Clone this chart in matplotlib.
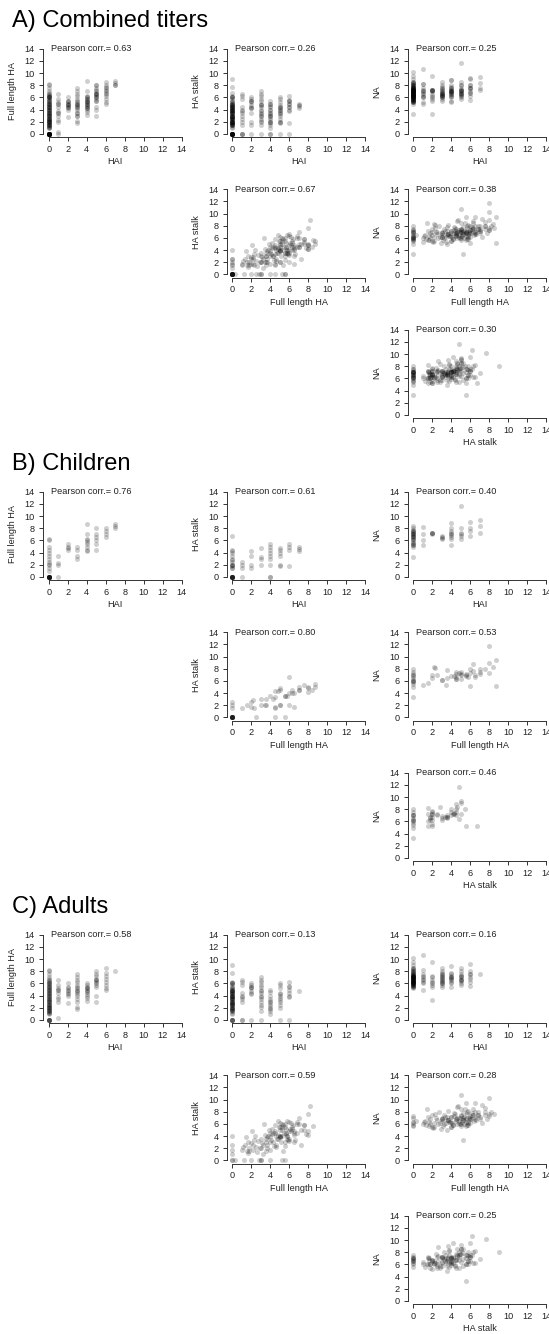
import numpy as np
import matplotlib.pyplot as plt

plt.rcParams['font.family'] = ['Liberation Sans', 'DejaVu Sans']

# children, one entry per subject (log2 titers)
child_hai = [0, 0, 0, 0, 0, 0, 0, 0, 0, 0, 0, 0, 0, 0, 0, 0, 0, 0, 0, 0, 0, 0, 0, 0,
             1, 1, 1, 1,
             2, 2, 2, 2,
             3, 3, 3, 3,
             4, 4, 4, 4, 4, 4, 4, 4, 4,
             5, 5, 5, 5, 5, 5,
             6, 6, 6, 6,
             7, 7, 7]
child_fl = [0, 0, 0, 0, 0, 0, 0, 0, 0, 0, 0, 0, 1.0, 1.5, 2.0, 2.5, 3.0, 3.5, 4.0, 4.5, 5.0, 6.0, 6.3, 2.2,
            0, 2.0, 2.3, 3.4,
            4.5, 5.0, 5.5, 4.8,
            3.0, 3.5, 4.5, 5.0,
            4.5, 5.5, 5.0, 5.8, 6.0, 6.3, 7.0, 8.7, 4.3,
            4.5, 5.5, 6.5, 7.0, 8.0, 6.0,
            6.5, 7.0, 7.5, 8.0,
            8.0, 8.4, 8.7]
child_stalk = [0, 0, 0, 0, 0, 0, 0, 0, 0, 1.5, 2.0, 2.5, 1.5, 2.0, 1.8, 0, 3.0, 2.0, 3.5, 4.3, 4.5, 6.7, 4.0, 2.8,
               0, 2.5, 1.5, 2.0,
               1.5, 2.0, 3.5, 4.3,
               2.0, 3.0, 3.3, 4.8,
               0, 0, 2.0, 3.5, 4.0, 4.5, 5.0, 5.5, 3.0,
               1.8, 3.5, 4.0, 4.5, 4.8, 2.0,
               1.8, 4.5, 5.4, 5.0,
               4.2, 4.6, 5.0]
child_na = [3.3, 5.0, 5.5, 5.8, 6.2, 6.5, 7.0, 7.5, 8.0, 6.0, 6.8, 7.2, 5.3, 5.6, 6.5, 7.0, 6.2, 7.8, 6.8, 7.4, 7.0, 5.2, 7.6, 8.3,
            6.0, 7.0, 8.2, 5.3,
            7.2, 7.2, 7.1, 7.3,
            6.2, 6.5, 6.7, 6.4,
            6.3, 7.0, 7.5, 6.6, 8.0, 8.8, 7.2, 5.2, 6.9,
            6.3, 6.8, 7.0, 8.0, 11.7, 7.3,
            6.7, 7.5, 8.0, 9.0,
            7.3, 8.3, 9.4]

# adults
adult_hai = [0, 0, 0, 0, 0, 0, 0, 0, 0, 0, 0, 0, 0, 0, 0, 0, 0, 0, 0, 0,
             0, 0, 0, 0, 0, 0, 0, 0, 0, 0, 0, 0, 0, 0, 0, 0, 0, 0, 0, 0,
             0, 0, 0, 0, 0, 0, 0, 0, 0, 0, 0, 0, 0, 0, 0, 0, 0, 0, 0, 0,
             1, 1, 1, 1, 1, 1, 1, 1, 1, 1,
             2, 2, 2, 2, 2, 2, 2, 2, 2,
             3, 3, 3, 3, 3, 3, 3, 3, 3, 3, 3, 3, 3, 3, 3, 3,
             4, 4, 4, 4, 4, 4, 4, 4, 4, 4, 4, 4,
             5, 5, 5, 5, 5, 5, 5, 5, 5, 5, 5, 5,
             6, 6, 6, 6, 6, 6, 6, 6,
             7]
adult_fl = [0, 0, 0, 0, 0, 0, 1.0, 1.1, 1.2, 1.3, 1.4, 1.5, 1.6, 1.7, 1.8, 2.0, 2.0, 2.1, 2.2, 2.3,
            2.4, 2.5, 2.6, 2.7, 2.9, 3.0, 3.1, 3.2, 3.3, 3.4, 3.5, 3.6, 3.7, 3.9, 4.0, 4.1, 4.2, 4.4, 4.5, 4.6,
            4.7, 4.9, 5.0, 5.1, 5.2, 5.4, 5.5, 5.6, 5.7, 5.9, 6.0, 6.1, 6.2, 6.4, 6.5, 6.8, 7.0, 7.6, 8.0, 8.2,
            0.3, 3.0, 3.5, 3.8, 5.0, 4.5, 5.0, 5.3, 5.8, 6.5,
            2.8, 5.2, 4.0, 4.5, 4.8, 5.0, 5.5, 6.0, 4.2,
            1.8, 2.2, 3.0, 3.5, 4.0, 4.3, 4.6, 5.0, 5.2, 5.5, 5.8, 6.2, 6.5, 7.0, 7.5, 4.8,
            3.2, 3.6, 4.0, 4.3, 4.6, 4.8, 5.0, 5.2, 5.5, 5.7, 6.0, 5.3,
            3.0, 4.0, 5.5, 5.8, 6.0, 6.3, 6.5, 6.8, 7.2, 7.5, 8.0, 6.6,
            5.0, 5.2, 5.8, 6.3, 6.8, 7.2, 7.8, 8.5,
            8.0]
adult_stalk = [0, 0, 1.0, 1.7, 2.5, 4.0, 1.8, 2.2, 0, 2.5, 3.8, 1.5, 3.0, 1.2, 2.0, 0, 2.8, 4.8, 1.8, 3.4,
               4.0, 2.2, 1.4, 3.2, 2.0, 3.5, 2.8, 2.6, 6.0, 4.2, 1.6, 2.6, 3.8, 5.0, 3.0, 3.4, 4.4, 2.4, 4.8, 4.0,
               3.6, 5.5, 4.0, 3.0, 6.0, 4.6, 0, 4.4, 5.2, 3.4, 6.3, 5.2, 4.9, 5.8, 4.2, 4.6, 6.0, 5.0, 7.7, 9.0,
               0, 0, 3.5, 4.0, 6.2, 4.5, 3.8, 5.8, 6.5, 3.0,
               0, 5.5, 4.5, 5.8, 4.2, 5.5, 6.0, 4.8, 5.2,
               1.5, 2.5, 0, 3.0, 3.8, 4.5, 2.2, 5.0, 4.0, 5.5, 3.5, 6.2, 4.8, 7.0, 5.8, 6.5,
               1.0, 2.0, 1.8, 3.0, 2.6, 3.5, 4.0, 5.0, 2.3, 4.6, 3.2, 1.5,
               2.0, 0, 3.0, 4.0, 3.6, 5.2, 4.5, 6.0, 2.5, 5.8, 4.2, 3.3,
               3.8, 0, 4.0, 5.5, 6.3, 5.0, 4.4, 5.6,
               4.8]
adult_na = [5.6, 6.1, 6.4, 7.0, 7.3, 5.9, 6.0, 6.3, 6.5, 5.8, 8.4, 7.2, 6.3, 5.6, 6.8, 7.5, 5.5, 5.4, 6.1, 7.6,
            7.0, 6.6, 6.0, 8.0, 5.2, 6.9, 5.7, 7.4, 7.2, 6.2, 6.7, 6.6, 8.2, 6.4, 7.1, 6.2, 5.9, 7.7, 6.8, 7.0,
            9.0, 6.0, 7.3, 6.4, 6.6, 8.5, 6.9, 5.8, 7.9, 7.0, 6.2, 6.9, 7.8, 6.5, 9.5, 7.4, 7.2, 8.6, 10.2, 8.0,
            6.5, 7.0, 5.0, 6.3, 10.7, 6.8, 7.5, 6.0, 8.2, 7.2,
            6.2, 3.3, 5.5, 6.5, 7.0, 6.0, 9.5, 7.3, 5.8,
            6.0, 5.5, 6.8, 7.2, 6.4, 7.8, 6.0, 8.5, 6.6, 7.0, 5.8, 7.5, 8.0, 6.9, 7.4, 6.2,
            6.0, 6.7, 5.5, 7.3, 8.8, 6.5, 7.0, 7.8, 6.3, 7.6, 6.9, 7.1,
            6.5, 7.2, 5.7, 6.4, 7.0, 8.5, 6.8, 7.5, 6.1, 8.0, 7.3, 6.6,
            5.6, 7.0, 6.2, 7.5, 8.0, 9.2, 6.8, 7.6,
            7.6]

corr_a = ["0.63", "0.26", "0.25", "0.67", "0.38", "0.30"]
corr_b = ["0.76", "0.61", "0.40", "0.80", "0.53", "0.46"]
corr_c = ["0.58", "0.13", "0.16", "0.59", "0.28", "0.25"]

ticks = [0, 2, 4, 6, 8, 10, 12, 14]

child = {'hai': child_hai, 'fl': child_fl, 'stalk': child_stalk, 'na': child_na}
adult = {'hai': adult_hai, 'fl': adult_fl, 'stalk': adult_stalk, 'na': adult_na}
combined = {k: child[k] + adult[k] for k in child}

sections = [("A) Combined titers", combined, corr_a),
            ("B) Children", child, corr_b),
            ("C) Adults", adult, corr_c)]

# (row, col, x variable, y variable, x label, y label)
panels = [(0, 0, 'hai', 'fl', 'HAI', 'Full length HA'),
          (0, 1, 'hai', 'stalk', 'HAI', 'HA stalk'),
          (0, 2, 'hai', 'na', 'HAI', 'NA'),
          (1, 1, 'fl', 'stalk', 'Full length HA', 'HA stalk'),
          (1, 2, 'fl', 'na', 'Full length HA', 'NA'),
          (2, 2, 'stalk', 'na', 'HA stalk', 'NA')]

W, H = 549, 1334
fig = plt.figure(figsize=(W / 100, H / 100), dpi=100)

col_left = [43.4, 227, 408]
ax_w, ax_h = 143.6, 92.0
row_zero = [134, 274.5, 415]
sec_step = 443
fs = 6.6
lc = '#333333'
tc = '#222222'

for s, (title, d, corrs) in enumerate(sections):
    fig.text(12 / W, 1 - (21 + s * sec_step) / H, title, fontsize=17,
             ha='left', va='center')
    for i, (r, c, xv, yv, xl, yl) in enumerate(panels):
        bottom_px = row_zero[r] + s * sec_step + 3.4
        ax = fig.add_axes([col_left[c] / W, 1 - bottom_px / H, ax_w / W, ax_h / H])
        ax.scatter(d[xv], d[yv], s=13, color='black', alpha=0.19, linewidths=0)
        ax.set_xlim(-0.56, 14.56)
        ax.set_ylim(-0.56, 14.56)
        for sp in ['top', 'right']:
            ax.spines[sp].set_visible(False)
        for sp in ['left', 'bottom']:
            ax.spines[sp].set_bounds(0, 14)
            ax.spines[sp].set_linewidth(0.7)
            ax.spines[sp].set_color(lc)
        ax.set_xticks(ticks)
        ax.set_yticks(ticks)
        ax.tick_params(axis='both', length=3.2, width=0.7, color=lc,
                       labelsize=fs, labelcolor=tc)
        ax.tick_params(axis='x', pad=2.2)
        ax.tick_params(axis='y', pad=3)
        ax.text(0.25, 14, "Pearson corr.= " + corrs[i], fontsize=fs,
                ha='left', va='center', color=tc)
        ax.text(0.5, -0.265, xl, transform=ax.transAxes, fontsize=fs,
                ha='center', va='center', color=tc)
        ax.text(-0.215, 0.5, yl, transform=ax.transAxes, fontsize=fs,
                ha='center', va='center', rotation=90, color=tc)

fig.savefig("out.png", dpi=100)
